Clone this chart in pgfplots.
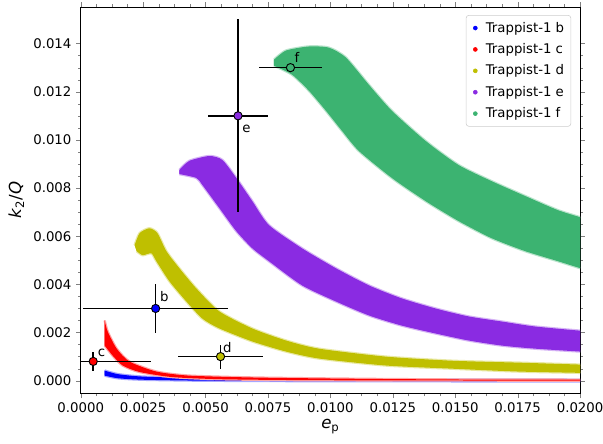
\documentclass[border=0pt]{standalone}
\usepackage{fontspec}
\setmainfont{DejaVu Sans}
\usepackage{pgfplots}
\pgfplotsset{compat=1.18}

\definecolor{cb}{rgb}{0,0,1}
\definecolor{cc}{rgb}{1,0,0}
\definecolor{cd}{rgb}{0.75,0.75,0}
\definecolor{ce}{HTML}{8A2BE2}
\definecolor{cf}{HTML}{3CB371}

\pgfplotsset{
  dot/.style={legend image code/.code={
      \fill[#1] (0.13cm,0cm) circle (1.5pt);
      \path (0cm,0cm) (0.33cm,0cm);}},
  band/.style={forget plot, fill=#1, draw=none, smooth, tension=0.4,
      preaction={draw=#1!35, line width=1.8pt}},
}

\begin{document}
\begin{tikzpicture}
\useasboundingbox (-60.75pt,-37.5pt) rectangle (393pt,296.25pt);
\begin{axis}[
    at={(0,0)}, anchor=south west,
    scale only axis, width=375.75pt, height=291pt,
    xmin=0, xmax=0.02, ymin=-0.00054, ymax=0.01552,
    xtick={0,0.0025,0.005,0.0075,0.01,0.0125,0.015,0.0175,0.02},
    ytick={0,0.002,0.004,0.006,0.008,0.01,0.012,0.014},
    minor x tick num=3, minor y tick num=3,
    tick pos=both, tick align=outside,
    major tick length=3.5pt, minor tick length=2pt,
    scaled ticks=false,
    xticklabel style={/pgf/number format/.cd, fixed, fixed zerofill, precision=4},
    yticklabel style={/pgf/number format/.cd, fixed, fixed zerofill, precision=3},
    /pgf/number format/assume math mode=true,
    tick label style={font=\fontsize{10}{12}\selectfont},
    xlabel={\textit{e}\textsubscript{p}},
    ylabel={\textit{k}\textsubscript{2}/\textit{Q}},
    label style={font=\fontsize{12.5}{15}\selectfont},
    xlabel style={at={(axis description cs:0.5,-0.085)}, anchor=center},
    ylabel style={at={(axis description cs:-0.129,0.5)}, anchor=center},
    axis line style={black, line width=0.6pt},
    legend cell align=left,
    legend style={at={(0.982,0.979)}, anchor=north east, draw=black!20,
        rounded corners=2pt, fill=white, font=\fontsize{10}{12}\selectfont,
        row sep=3pt, inner sep=3pt},
]
\addlegendimage{dot=cb}
\addlegendentry{Trappist-1 b}
\addlegendimage{dot=cc}
\addlegendentry{Trappist-1 c}
\addlegendimage{dot=cd}
\addlegendentry{Trappist-1 d}
\addlegendimage{dot=ce}
\addlegendentry{Trappist-1 e}
\addlegendimage{dot=cf}
\addlegendentry{Trappist-1 f}

% b band
\addplot[band=cb] coordinates {
 (0.00096,0.00042)(0.0015,0.00027)(0.0025,0.00017)(0.005,0.0001)(0.01,0.00006)(0.0203,0.00004)(0.0212,0.00004)
 (0.0212,-0.00003)(0.0203,-0.00003)(0.01,-0.00002)(0.005,0.0)(0.0025,0.00004)(0.0015,0.0001)(0.00096,0.00021)};
% c band
\addplot[band=cc] coordinates {
 (0.00096,0.00250)(0.00108,0.00204)(0.00144,0.00133)(0.00196,0.00079)(0.00303,0.00038)
 (0.00435,0.00021)(0.00703,0.00013)(0.01102,0.00008)(0.01501,0.00005)(0.0203,0.00004)(0.0212,0.00004)
 (0.0212,0.0)(0.0203,0.0)(0.00966,0.00002)(0.00567,0.00006)(0.00367,0.00015)(0.00236,0.00036)
 (0.00168,0.00063)(0.00128,0.00104)(0.00096,0.00146)};
% d band
\addplot[band=cd] coordinates {
 (0.00216,0.00563)(0.00236,0.00613)(0.00275,0.00633)(0.00307,0.00613)(0.00343,0.00538)
 (0.00395,0.00467)(0.00463,0.00383)(0.00555,0.00288)(0.00687,0.00217)(0.00822,0.00167)
 (0.00954,0.00133)(0.01222,0.00100)(0.01485,0.00083)(0.01752,0.00075)(0.0203,0.00066)(0.0212,0.00064)
 (0.0212,0.00030)(0.0203,0.00032)(0.01752,0.00038)(0.01485,0.00050)(0.01222,0.00063)(0.00954,0.00092)
 (0.00822,0.00121)(0.00687,0.00163)(0.00555,0.00217)(0.00487,0.00258)(0.00423,0.00329)
 (0.00355,0.00413)(0.00303,0.00496)(0.00283,0.00529)(0.00248,0.00521)(0.00224,0.00538)};
% e band
\addplot[band=ce] coordinates {
 (0.00395,0.00875)(0.00435,0.00913)(0.00515,0.00933)(0.00567,0.00917)(0.00623,0.00842)
 (0.00687,0.00746)(0.00754,0.00646)(0.00886,0.00550)(0.01022,0.00467)(0.01154,0.00396)
 (0.01285,0.00342)(0.01421,0.00300)(0.01553,0.00267)(0.01685,0.00246)(0.01820,0.00225)
 (0.0203,0.00205)(0.0212,0.00198)
 (0.0212,0.00113)(0.0203,0.00119)(0.01820,0.00133)(0.01685,0.00146)(0.01553,0.00167)(0.01421,0.00196)
 (0.01285,0.00229)(0.01154,0.00271)(0.01022,0.00329)(0.00886,0.00396)(0.00754,0.00496)
 (0.00687,0.00550)(0.00623,0.00621)(0.00555,0.00717)(0.00487,0.00813)(0.00463,0.00842)
 (0.00395,0.00858)};
% f band
\addplot[band=cf] coordinates {
 (0.00774,0.01333)(0.00822,0.01371)(0.00914,0.01388)(0.00994,0.01383)(0.01062,0.01342)
 (0.01154,0.01229)(0.01246,0.01121)(0.01381,0.00996)(0.01513,0.00896)(0.01645,0.00829)
 (0.01780,0.00767)(0.01912,0.00708)(0.0203,0.00670)(0.0212,0.00645)
 (0.0212,0.00435)(0.0203,0.00458)(0.01912,0.00496)(0.01780,0.00538)(0.01645,0.00592)(0.01513,0.00663)
 (0.01381,0.00746)(0.01246,0.00842)(0.01114,0.00954)(0.01046,0.01038)(0.00982,0.01121)
 (0.00914,0.01204)(0.00846,0.01271)(0.00774,0.01308)};

% measured values with error bars
\pgfplotsset{meas/.style={forget plot, only marks, mark=*, mark size=3.1pt,
    mark options={fill=#1, draw=black, line width=0.7pt},
    error bars/.cd, x dir=both, x explicit, y dir=both, y explicit,
    error mark=none, error bar style={black, line width=1.1pt}}}
\addplot[meas=cb] coordinates {(0.0030,0.0030) +- (0.0029,0.0010)};
\addplot[meas=cc] coordinates {(0.0005,0.0008) +- (0.0023,0.0004)};
\addplot[meas=cd] coordinates {(0.0056,0.0010) +- (0.0017,0.0005)};
\addplot[meas=ce] coordinates {(0.0063,0.0110) +- (0.0012,0.0040)};
\addplot[meas=cf] coordinates {(0.0084,0.0130) +- (0.00128,0.0)};

\node[font=\fontsize{10}{12}\selectfont] at (axis cs:0.00335,0.00348) {b};
\node[font=\fontsize{10}{12}\selectfont] at (axis cs:0.00083,0.00116) {c};
\node[font=\fontsize{10}{12}\selectfont] at (axis cs:0.00587,0.00137) {d};
\node[font=\fontsize{10}{12}\selectfont] at (axis cs:0.00664,0.01046) {e};
\node[font=\fontsize{10}{12}\selectfont] at (axis cs:0.00866,0.01342) {f};
\end{axis}
\end{tikzpicture}
\end{document}
